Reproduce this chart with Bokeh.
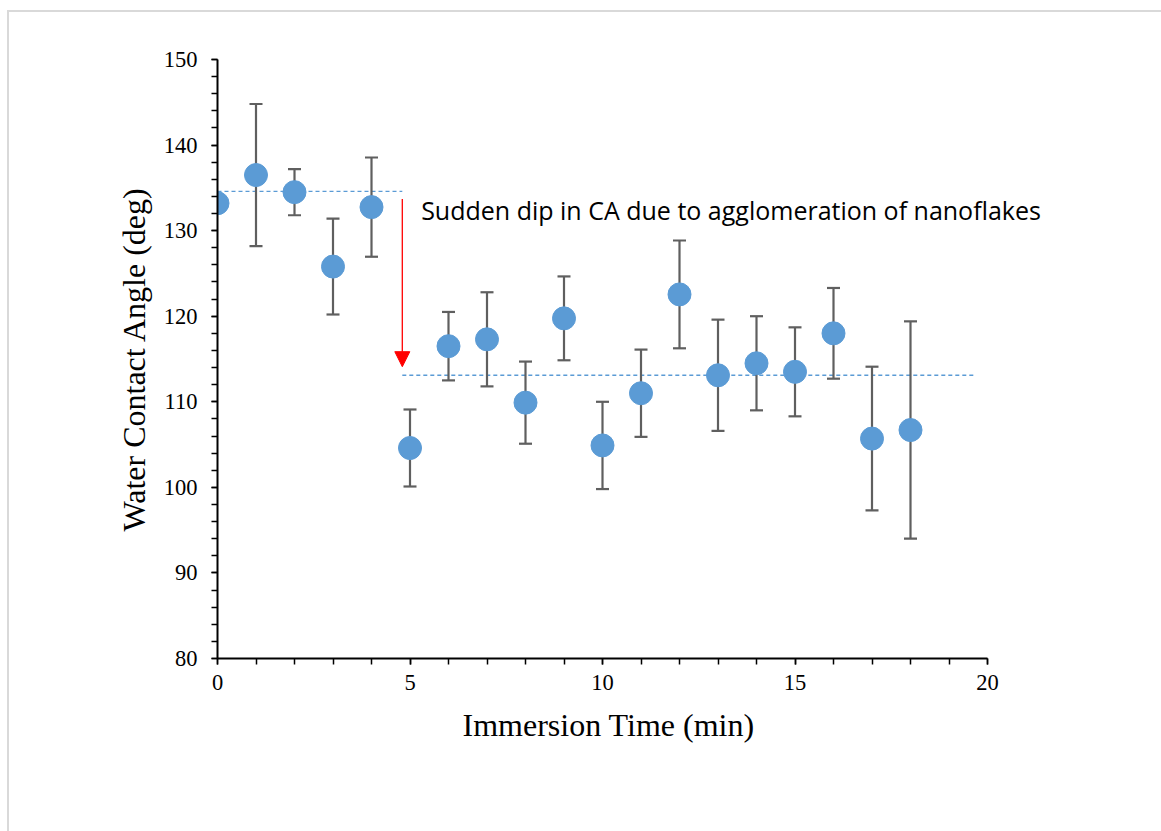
from bokeh.plotting import figure
from bokeh.embed import file_html
from bokeh.resources import INLINE
from bokeh.models import SingleIntervalTicker, Range1d, Arrow, NormalHead, Label, Title

# ---- data ----
time_min = [0, 1, 2, 3, 4, 5, 6, 7, 8, 9, 10, 11, 12, 13, 14, 15, 16, 17, 18]
contact_angle = [133.2, 136.5, 134.5, 125.8, 132.75, 104.6, 116.5, 117.3, 109.9, 119.75,
                 104.9, 111.0, 122.55, 113.1, 114.5, 113.5, 118.0, 105.7, 106.7]
angle_err = [0.0, 8.3, 2.7, 5.6, 5.8, 4.5, 4.0, 5.5, 4.8, 4.9,
             5.1, 5.1, 6.3, 6.5, 5.5, 5.2, 5.3, 8.4, 12.7]

upper_level_x = [0, 4.8]
upper_level_y = [134.6, 134.6]
lower_level_x = [4.8, 19.65]
lower_level_y = [113.1, 113.1]
arrow_x = 4.8
arrow_y = [133.7, 114.1]

annotation_text = "Sudden dip in CA due to agglomeration of nanoflakes"
annotation_pos = (5.29, 132.4)

x_label = "Immersion Time (min)"
y_label = "Water Contact Angle (deg)"

# ---- figure ----
# The frame extends past x=20 so that the annotation is not clipped;
# the x axis itself is bounded to 0..20.
p = figure(width=1154, height=821, output_backend="svg", toolbar_location=None,
           x_range=Range1d(0, 22), y_range=Range1d(80, 150),
           min_border_left=208, min_border_right=99, min_border_top=47, min_border_bottom=175,
           styles={"margin-left": "7px", "margin-top": "10px",
                   "border-left": "2px solid #d9d9d9", "border-top": "2px solid #d9d9d9"})
p.outline_line_color = None
p.grid.visible = False
p.background_fill_color = "white"
p.border_fill_color = "white"

# dashed reference levels
p.line(upper_level_x, upper_level_y, line_color="#5B9BD5", line_width=1.3, line_dash="4 3")
p.line(lower_level_x, lower_level_y, line_color="#5B9BD5", line_width=1.3, line_dash="4 3")

# error bars
lower = [v - e for v, e in zip(contact_angle, angle_err)]
upper = [v + e for v, e in zip(contact_angle, angle_err)]
has_err = [i for i, e in enumerate(angle_err) if e > 0]
ex = [time_min[i] for i in has_err]
el = [lower[i] for i in has_err]
eu = [upper[i] for i in has_err]
p.segment(ex, el, ex, eu, line_color="#5f5f5f", line_width=2.2)
p.dash(ex, el, size=13, line_color="#5f5f5f", line_width=2.2)
p.dash(ex, eu, size=13, line_color="#5f5f5f", line_width=2.2)

# markers
p.scatter(time_min, contact_angle, size=23, fill_color="#5B9BD5", line_color="#5B9BD5")

# red arrow
p.add_layout(Arrow(end=NormalHead(size=15, fill_color="red", line_color="red", line_width=1),
                   x_start=arrow_x, y_start=arrow_y[0], x_end=arrow_x, y_end=arrow_y[1],
                   line_color="red", line_width=1.3))

# annotation
p.add_layout(Label(x=annotation_pos[0], y=annotation_pos[1], text=annotation_text,
                   text_font="Open Sans", text_font_size="25px", text_color="black",
                   text_baseline="alphabetic", text_align="left"))

# axes
p.xaxis.ticker = SingleIntervalTicker(interval=5, num_minor_ticks=5)
p.yaxis.ticker = SingleIntervalTicker(interval=10, num_minor_ticks=5)
p.xaxis.bounds = (0, 20)
for ax in (p.xaxis[0], p.yaxis[0]):
    ax.axis_line_color = "black"
    ax.axis_line_width = 2
    ax.major_tick_line_color = "black"
    ax.minor_tick_line_color = "black"
    ax.major_tick_line_width = 1.5
    ax.minor_tick_line_width = 1.5
    ax.major_tick_in = 0
    ax.major_tick_out = 6
    ax.minor_tick_in = 0
    ax.minor_tick_out = 6
    ax.major_label_text_font = "Liberation Serif"
    ax.major_label_text_font_size = "22.5px"
    ax.major_label_text_color = "black"
    ax.axis_label_text_font = "Liberation Serif"
    ax.axis_label_text_font_size = "32px"
    ax.axis_label_text_font_style = "normal"
    ax.axis_label_text_color = "black"
p.yaxis.axis_label = y_label
p.xaxis.major_label_standoff = 10
p.yaxis.major_label_standoff = 14
p.yaxis.axis_label_standoff = 9

# x axis title, placed under the 0..20 part of the axis
p.add_layout(Title(text=x_label, align="left", offset=245, standoff=24,
                   text_font="Liberation Serif", text_font_size="32px",
                   text_font_style="normal", text_color="black"), "below")

open("out.html", "w").write(file_html(p, INLINE))
